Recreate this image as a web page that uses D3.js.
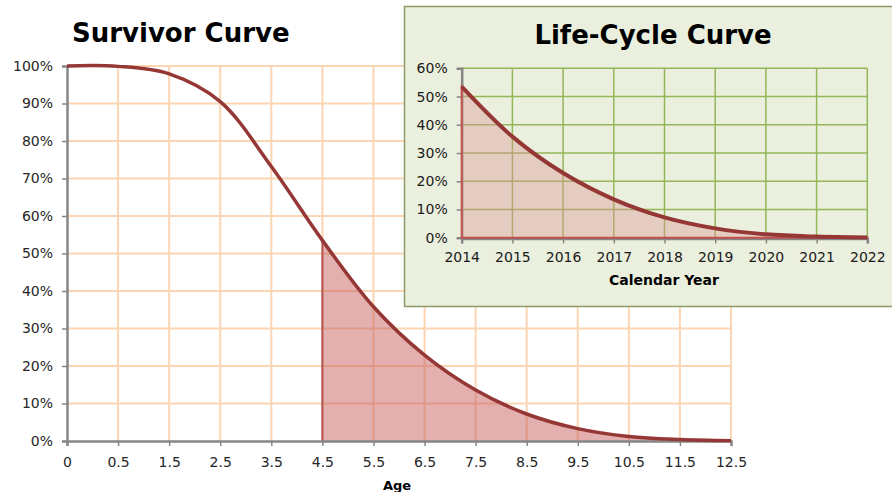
<!DOCTYPE html>
<html>
<head>
<meta charset="utf-8">
<script src="https://cdn.jsdelivr.net/npm/d3@7"></script>
<style>
  body { margin: 0; background: #fff; }
  svg { display: block; }
  text { font-family: "DejaVu Sans", Verdana, sans-serif; }
</style>
</head>
<body>
<div id="chart"></div>
<script>
// survivor curve data (age categories, share surviving)
var ages = ["0", "0.5", "1.5", "2.5", "3.5", "4.5", "5.5", "6.5", "7.5", "8.5", "9.5", "10.5", "11.5", "12.5"];
var survivor = [1.0, 0.999, 0.979, 0.905, 0.732, 0.535, 0.358, 0.229, 0.136, 0.072, 0.033, 0.012, 0.004, 0.001];
var shadeFrom = "4.5";

// life-cycle curve data
var years = ["2014", "2015", "2016", "2017", "2018", "2019", "2020", "2021", "2022"];
var lifeCycle = [0.535, 0.358, 0.229, 0.136, 0.072, 0.033, 0.012, 0.004, 0.001];

var mainTicks = [0, 0.1, 0.2, 0.3, 0.4, 0.5, 0.6, 0.7, 0.8, 0.9, 1.0];
var insetTicks = [0, 0.1, 0.2, 0.3, 0.4, 0.5, 0.6];

var width = 892, height = 492;
var svg = d3.select("#chart").append("svg").attr("width", width).attr("height", height);
var pct = d3.format(".0%");
var smooth = d3.curveCatmullRom.alpha(0.5);

// ---------- main chart ----------
var x = d3.scalePoint().domain(ages).range([67, 731]);
var y = d3.scaleLinear().domain([0, 1]).range([441, 66]);

svg.append("text").attr("x", 72).attr("y", 42)
  .attr("font-size", 26).attr("font-weight", "bold").attr("fill", "#000")
  .text("Survivor Curve");

var grid = svg.append("g");
grid.selectAll("line.h").data(mainTicks.slice(1)).enter().append("line")
  .attr("x1", 67).attr("x2", 731)
  .attr("y1", function(d) { return y(d); }).attr("y2", function(d) { return y(d); })
  .attr("stroke", "#fcd5b4").attr("stroke-width", 2);
grid.selectAll("line.v").data(ages.slice(1)).enter().append("line")
  .attr("y1", 66).attr("y2", 441)
  .attr("x1", function(d) { return x(d); }).attr("x2", function(d) { return x(d); })
  .attr("stroke", "#fcd5b4").attr("stroke-width", 2);

var idx = ages.indexOf(shadeFrom);
var shaded = ages.slice(idx).map(function(a, i) { return [a, survivor[idx + i]]; });
var area = d3.area().x(function(d) { return x(d[0]); }).y0(441).y1(function(d) { return y(d[1]); })
  .curve(smooth);
svg.append("path").datum(shaded).attr("d", area)
  .attr("fill", "#c0504d").attr("fill-opacity", 0.45);
svg.append("line")
  .attr("x1", x(shadeFrom)).attr("x2", x(shadeFrom))
  .attr("y1", 441).attr("y2", y(survivor[idx]))
  .attr("stroke", "#b45451").attr("stroke-width", 2);

var yAxis = d3.axisLeft(y).tickValues(mainTicks).tickFormat(pct).tickSize(5).tickPadding(9);
var gy = svg.append("g").attr("transform", "translate(67,0)").call(yAxis);
var xAxis = d3.axisBottom(x).tickSize(5).tickPadding(11);
var gx = svg.append("g").attr("transform", "translate(0,441)").call(xAxis);
[gx, gy].forEach(function(g) {
  g.select(".domain").attr("stroke", "#868686").attr("stroke-width", 2.5);
  g.selectAll(".tick line").attr("stroke", "#868686").attr("stroke-width", 1.5);
  g.selectAll(".tick text").attr("fill", "#262626").attr("font-size", 14)
    .style("font-family", "DejaVu Sans, Verdana, sans-serif");
});

var line = d3.line().x(function(d) { return x(d[0]); }).y(function(d) { return y(d[1]); })
  .curve(smooth);
svg.append("path").datum(ages.map(function(a, i) { return [a, survivor[i]]; }))
  .attr("d", line).attr("fill", "none").attr("stroke", "#953735").attr("stroke-width", 3.5);

svg.append("text").attr("x", 397).attr("y", 490).attr("text-anchor", "middle")
  .attr("font-size", 13).attr("font-weight", "bold").attr("fill", "#000").text("Age");

// ---------- inset life-cycle chart ----------
var inset = svg.append("g");
inset.append("rect").attr("x", 404.5).attr("y", 6.5).attr("width", 500).attr("height", 300)
  .attr("fill", "#ebf0de").attr("stroke", "#8a9b68").attr("stroke-width", 1.5);

inset.append("text").attr("x", 653).attr("y", 44).attr("text-anchor", "middle")
  .attr("font-size", 26).attr("font-weight", "bold").attr("fill", "#000")
  .text("Life-Cycle Curve");

var x2 = d3.scalePoint().domain(years).range([461.7, 867.3]);
var y2 = d3.scaleLinear().domain([0, 0.6]).range([237.7, 68.3]);

inset.selectAll("line.h").data(insetTicks.slice(1)).enter().append("line")
  .attr("x1", 461.7).attr("x2", 867.3)
  .attr("y1", function(d) { return y2(d); }).attr("y2", function(d) { return y2(d); })
  .attr("stroke", "#94b657").attr("stroke-width", 1.5);
inset.selectAll("line.v").data(years.slice(1)).enter().append("line")
  .attr("y1", 68.3).attr("y2", 237.7)
  .attr("x1", function(d) { return x2(d); }).attr("x2", function(d) { return x2(d); })
  .attr("stroke", "#94b657").attr("stroke-width", 1.5);

var lifePts = years.map(function(yr, i) { return [yr, lifeCycle[i]]; });
var area2 = d3.area().x(function(d) { return x2(d[0]); }).y0(237.7).y1(function(d) { return y2(d[1]); })
  .curve(smooth);

var yAxis2 = d3.axisLeft(y2).tickValues(insetTicks).tickFormat(pct).tickSize(5).tickPadding(9);
var gy2 = inset.append("g").attr("transform", "translate(461.7,0)").call(yAxis2);
var xAxis2 = d3.axisBottom(x2).tickSize(5).tickPadding(9);
var gx2 = inset.append("g").attr("transform", "translate(0,238.5)").call(xAxis2);
[gx2, gy2].forEach(function(g) {
  g.select(".domain").attr("stroke", "#868686").attr("stroke-width", 2.5);
  g.selectAll(".tick line").attr("stroke", "#868686").attr("stroke-width", 1.5);
  g.selectAll(".tick text").attr("fill", "#1a1a1a").attr("font-size", 14)
    .style("font-family", "DejaVu Sans, Verdana, sans-serif");
});

inset.append("path").datum(lifePts).attr("d", area2)
  .attr("fill", "#d99694").attr("fill-opacity", 0.4)
  .attr("stroke", "#c0504d").attr("stroke-width", 2);

var line2 = d3.line().x(function(d) { return x2(d[0]); }).y(function(d) { return y2(d[1]); })
  .curve(smooth);
inset.append("path").datum(lifePts).attr("d", line2)
  .attr("fill", "none").attr("stroke", "#953735").attr("stroke-width", 4);

inset.append("text").attr("x", 664).attr("y", 285).attr("text-anchor", "middle")
  .attr("font-size", 14).attr("font-weight", "bold").attr("fill", "#000").text("Calendar Year");
</script>
</body>
</html>
